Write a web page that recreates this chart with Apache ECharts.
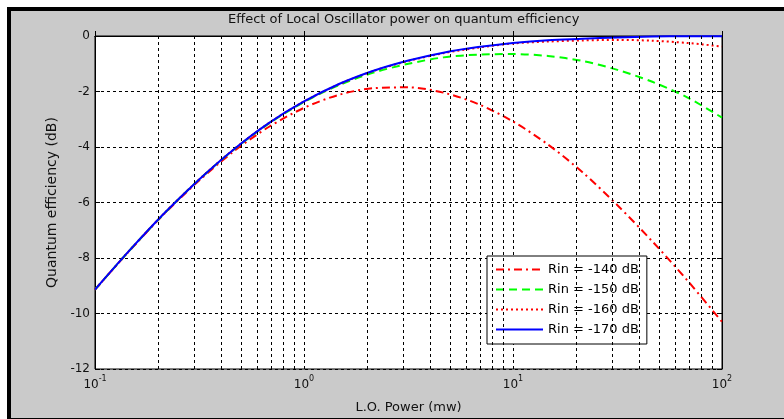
<!DOCTYPE html>
<html>
<head>
<meta charset="utf-8">
<script src="https://cdn.jsdelivr.net/npm/echarts@6/dist/echarts.min.js"></script>
<style>
html,body{margin:0;padding:0;background:#cacaca;overflow:hidden;}
#chart{width:784px;height:419px;}
</style>
</head>
<body>
<div id="chart"></div>
<script>
// L.O. power (mW), log-spaced sample points
const powerMw = [0.1, 0.147, 0.215, 0.316, 0.464, 0.681, 1, 1.47, 2.15, 3.16, 4.64, 6.81, 10, 14.7, 21.5, 31.6, 46.4, 68.1, 100];
// Quantum efficiency (dB) for each RIN value
const rin140 = [-9.14, -7.72, -6.40, -5.20, -4.14, -3.27, -2.59, -2.12, -1.88, -1.85, -2.04, -2.45, -3.08, -3.91, -4.91, -6.10, -7.40, -8.80, -10.30];
const rin150 = [-9.14, -7.71, -6.39, -5.16, -4.08, -3.15, -2.38, -1.77, -1.32, -1.00, -0.77, -0.67, -0.65, -0.72, -0.90, -1.22, -1.65, -2.21, -2.94];
const rin160 = [-9.14, -7.71, -6.38, -5.16, -4.07, -3.13, -2.36, -1.74, -1.26, -0.90, -0.62, -0.42, -0.27, -0.20, -0.16, -0.14, -0.17, -0.25, -0.38];
const rin170 = [-9.14, -7.71, -6.38, -5.16, -4.07, -3.13, -2.36, -1.73, -1.25, -0.88, -0.60, -0.40, -0.25, -0.15, -0.10, -0.05, -0.02, -0.01, -0.01];
const seriesNames = ['Rin = -140 dB', 'Rin = -150 dB', 'Rin = -160 dB', 'Rin = -170 dB'];
// minor grid positions on the log axis (2..9 per decade)
const xMinorGrid = [0.2,0.3,0.4,0.5,0.6,0.7,0.8,0.9, 2,3,4,5,6,7,8,9, 20,30,40,50,60,70,80,90];
const yTicks = {min: -12, max: 0, interval: 2};

const FONT = 'DejaVu Sans';
const pair = (xs, ys) => xs.map((x, i) => [x, ys[i]]);
const gridDash = {color: '#000', width: 1, type: [3, 3]};

const chart = echarts.init(document.getElementById('chart'), null, {renderer: 'canvas'});
chart.setOption({
  backgroundColor: '#fff',
  animation: false,
  graphic: [
    {type: 'rect', z: -10, shape: {x: 7, y: 7, width: 900, height: 500}, style: {fill: '#000'}},
    {type: 'rect', z: -9, shape: {x: 11, y: 11, width: 900, height: 407}, style: {fill: '#cacaca'}}
  ],
  title: {
    text: 'Effect of Local Oscillator power on quantum efficiency',
    left: 228, top: 13, padding: 0,
    textStyle: {fontFamily: FONT, fontSize: 13, fontWeight: 'normal', color: '#111'}
  },
  grid: {
    left: 95, top: 36, width: 627, height: 335,
    show: true, backgroundColor: '#fff', borderColor: '#000', borderWidth: 1
  },
  legend: {
    orient: 'vertical', left: 487, top: 256,
    data: seriesNames,
    backgroundColor: '#fff', borderColor: '#000', borderWidth: 1, borderRadius: 0,
    padding: [7, 8, 8, 8], itemWidth: 47, itemHeight: 14, itemGap: 7,
    itemStyle: {opacity: 0},
    textStyle: {fontFamily: FONT, fontSize: 13, color: '#000', padding: [0,0,0,0]}
  },
  xAxis: [{
    type: 'log', logBase: 10, min: 0.1, max: 100,
    name: 'L.O. Power (mw)', nameLocation: 'middle', nameGap: 32,
    nameTextStyle: {fontFamily: FONT, fontSize: 13, color: '#111'},
    axisLine: {lineStyle: {color: '#000', width: 1}},
    axisTick: {inside: true, length: 5, lineStyle: {color: '#000'}},
    splitLine: {show: true, lineStyle: gridDash},
    axisLabel: {
      margin: 6, color: '#111',
      formatter: v => '{b|10}{s|' + Math.round(Math.log10(v)) + '}',
      rich: {
        b: {fontFamily: FONT, fontSize: 12, color: '#111', verticalAlign: 'bottom', lineHeight: 16},
        s: {fontFamily: FONT, fontSize: 8, color: '#111', verticalAlign: 'top', lineHeight: 16}
      }
    }
  }, {
    type: 'log', logBase: 10, min: 0.1, max: 100, position: 'top',
    axisLine: {lineStyle: {color: '#000', width: 1}},
    axisTick: {inside: true, length: 5, lineStyle: {color: '#000'}},
    axisLabel: {show: false}, splitLine: {show: false}
  }],
  yAxis: [{
    type: 'value', min: yTicks.min, max: yTicks.max, interval: yTicks.interval,
    name: 'Quantum efficiency (dB)', nameLocation: 'middle', nameGap: 35,
    nameTextStyle: {fontFamily: FONT, fontSize: 14, color: '#111'},
    axisLine: {lineStyle: {color: '#000', width: 1}},
    axisTick: {inside: true, length: 5, lineStyle: {color: '#000'}},
    splitLine: {show: true, lineStyle: gridDash},
    axisLabel: {fontFamily: FONT, fontSize: 12, color: '#111', margin: 5}
  }, {
    type: 'value', min: yTicks.min, max: yTicks.max, interval: yTicks.interval, position: 'right',
    axisLine: {show: true, lineStyle: {color: '#000', width: 1}},
    axisTick: {show: true, inside: true, length: 5, lineStyle: {color: '#000'}},
    axisLabel: {show: false}, splitLine: {show: false}
  }],
  series: [
    {
      name: 'minor-grid', type: 'line', data: [], silent: true, z: 1,
      markLine: {
        silent: true, symbol: ['none', 'none'], label: {show: false},
        lineStyle: gridDash, animation: false,
        data: xMinorGrid.map(v => ({xAxis: v}))
      }
    },
    {name: seriesNames[0], type: 'line', data: pair(powerMw, rin140), smooth: 0.3, symbol: 'none', z: 3,
     lineStyle: {color: '#ff0000', width: 2, type: [8, 4, 2, 4]}, itemStyle: {color: '#ff0000'}},
    {name: seriesNames[1], type: 'line', data: pair(powerMw, rin150), smooth: 0.3, symbol: 'none', z: 3,
     lineStyle: {color: '#00ff00', width: 2, type: [8, 5]}, itemStyle: {color: '#00ff00'}},
    {name: seriesNames[2], type: 'line', data: pair(powerMw, rin160), smooth: 0.3, symbol: 'none', z: 3,
     lineStyle: {color: '#ff0000', width: 2, type: [2, 3]}, itemStyle: {color: '#ff0000'}},
    {name: seriesNames[3], type: 'line', data: pair(powerMw, rin170), smooth: 0.3, symbol: 'none', z: 4,
     lineStyle: {color: '#0000ff', width: 2, type: 'solid'}, itemStyle: {color: '#0000ff'}}
  ]
});
</script>
</body>
</html>
